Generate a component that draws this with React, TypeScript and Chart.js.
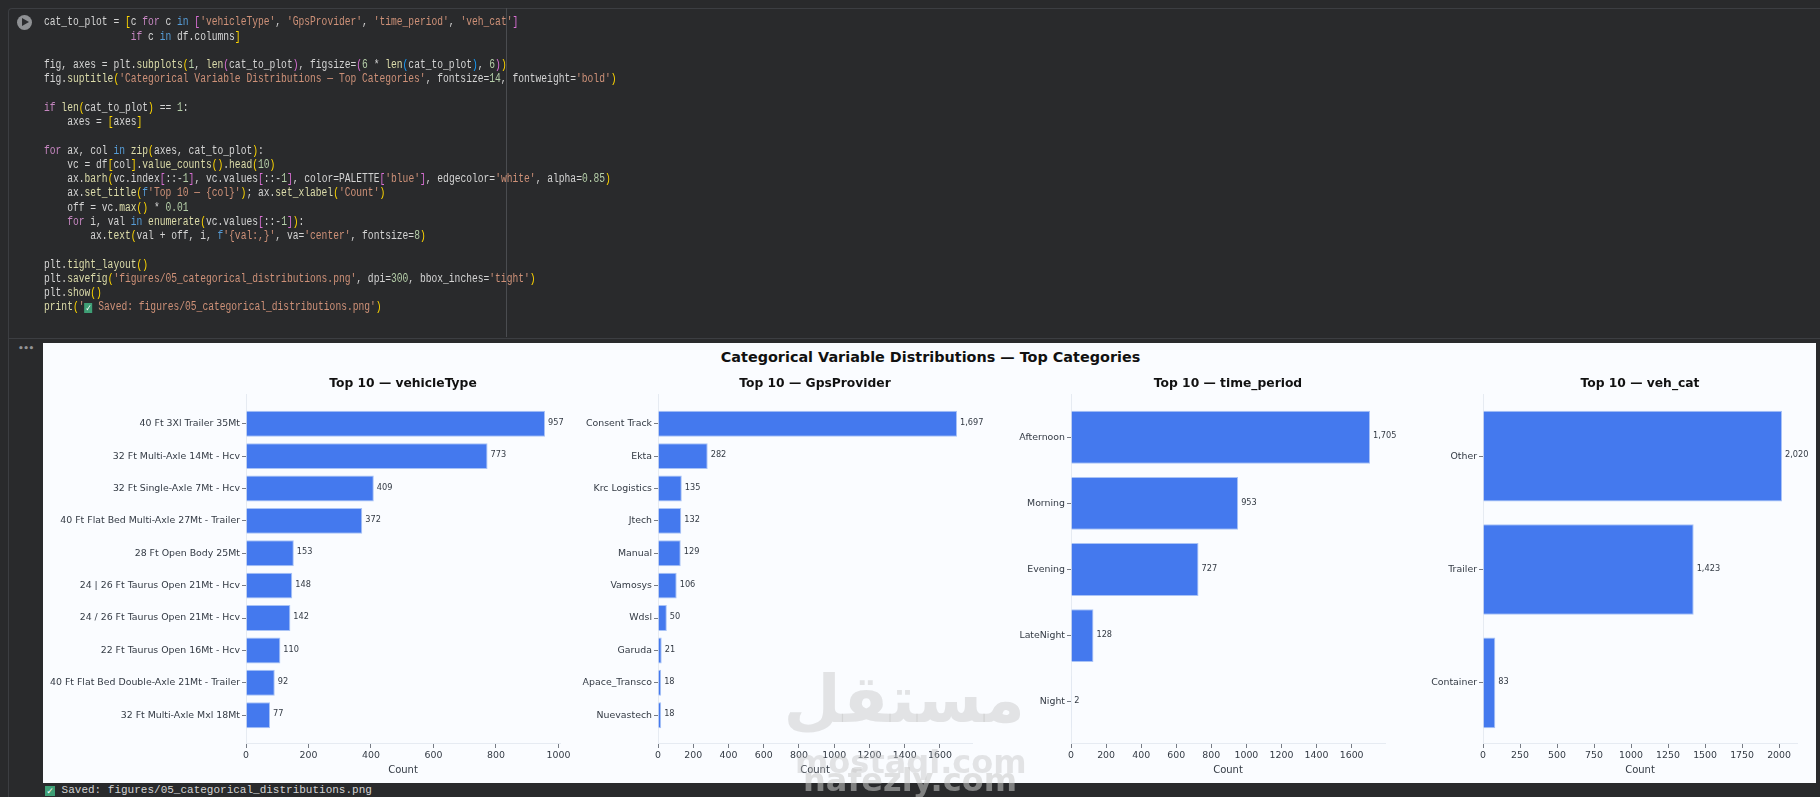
import React, { useEffect, useRef } from "react";
import { Chart, registerables } from "chart.js";

Chart.register(...registerables);

const vehicleTypeLabels = [
  "40 Ft 3Xl Trailer 35Mt",
  "32 Ft Multi-Axle 14Mt - Hcv",
  "32 Ft Single-Axle 7Mt - Hcv",
  "40 Ft Flat Bed Multi-Axle 27Mt - Trailer",
  "28 Ft Open Body 25Mt",
  "24 | 26 Ft Taurus Open 21Mt - Hcv",
  "24 / 26 Ft Taurus Open 21Mt - Hcv",
  "22 Ft Taurus Open 16Mt - Hcv",
  "40 Ft Flat Bed Double-Axle 21Mt - Trailer",
  "32 Ft Multi-Axle Mxl 18Mt",
];
const vehicleTypeValues = [957, 773, 409, 372, 153, 148, 142, 110, 92, 77];
const vehicleTypeTicks = [0, 200, 400, 600, 800, 1000];

const gpsLabels = ["Consent Track", "Ekta", "Krc Logistics", "Jtech", "Manual", "Vamosys", "Wdsl", "Garuda", "Apace_Transco", "Nuevastech"];
const gpsValues = [1697, 282, 135, 132, 129, 106, 50, 21, 18, 18];
const gpsTicks = [0, 200, 400, 600, 800, 1000, 1200, 1400, 1600];

const periodLabels = ["Afternoon", "Morning", "Evening", "LateNight", "Night"];
const periodValues = [1705, 953, 727, 128, 2];
const periodTicks = [0, 200, 400, 600, 800, 1000, 1200, 1400, 1600];

const vehCatLabels = ["Other", "Trailer", "Container"];
const vehCatValues = [2020, 1423, 83];
const vehCatTicks = [0, 250, 500, 750, 1000, 1250, 1500, 1750, 2000];

const panels = [
  { title: "Top 10 — vehicleType", labels: vehicleTypeLabels, values: vehicleTypeValues, ticks: vehicleTypeTicks, left: 246 },
  { title: "Top 10 — GpsProvider", labels: gpsLabels, values: gpsValues, ticks: gpsTicks, left: 658 },
  { title: "Top 10 — time_period", labels: periodLabels, values: periodValues, ticks: periodTicks, left: 1071 },
  { title: "Top 10 — veh_cat", labels: vehCatLabels, values: vehCatValues, ticks: vehCatTicks, left: 1483 },
];

const codeLines: [number, string][] = [
  [0, "cat_to_plot = [c for c in ['vehicleType', 'GpsProvider', 'time_period', 'veh_cat']"],
  [1, "               if c in df.columns]"],
  [3, "fig, axes = plt.subplots(1, len(cat_to_plot), figsize=(6 * len(cat_to_plot), 6))"],
  [4, "fig.suptitle('Categorical Variable Distributions — Top Categories', fontsize=14, fontweight='bold')"],
  [6, "if len(cat_to_plot) == 1:"],
  [7, "    axes = [axes]"],
  [9, "for ax, col in zip(axes, cat_to_plot):"],
  [10, "    vc = df[col].value_counts().head(10)"],
  [11, "    ax.barh(vc.index[::-1], vc.values[::-1], color=PALETTE['blue'], edgecolor='white', alpha=0.85)"],
  [12, "    ax.set_title(f'Top 10 — {col}'); ax.set_xlabel('Count')"],
  [13, "    off = vc.max() * 0.01"],
  [14, "    for i, val in enumerate(vc.values[::-1]):"],
  [15, "        ax.text(val + off, i, f'{val:,}', va='center', fontsize=8)"],
  [17, "plt.tight_layout()"],
  [18, "plt.savefig('figures/05_categorical_distributions.png', dpi=300, bbox_inches='tight')"],
  [19, "plt.show()"],
  [20, "print('✅ Saved: figures/05_categorical_distributions.png')"],
];

const savedText = "Saved: figures/05_categorical_distributions.png";

const FONT = '"DejaVu Sans", sans-serif';
const MONO = '"Liberation Mono", monospace';
const BAR = "#4479EE";
const BAR_EDGE = "#A9C3F6";
const SPINE = "#E6EBF2";
const TICK = "#777C85";
const INK = "#333A44";

const PAD = 210;
const PLOT_W = 314;
const CANVAS_H = 440;

const BRACKETS = ["#ffd700", "#da70d6", "#179fff"];

function Check({ size }: { size: number }) {
  return (
    <span
      style={{
        display: "inline-block",
        width: size,
        height: size,
        lineHeight: size + "px",
        background: "#3f9f76",
        color: "#fff",
        fontSize: size - 1,
        textAlign: "center",
        verticalAlign: "-1px",
        fontFamily: FONT,
      }}
    >
      ✓
    </span>
  );
}

function renderCode(line: string, depth: { v: number }) {
  const out: React.ReactNode[] = [];
  const re = /(f?'[^']*')|\b(for|if)\b|\b(in)\b|\b(\d+(?:\.\d+)?)\b|([\[\](){}])|([A-Za-z_]\w*)(?=\()|([A-Za-z_]\w*|[^\sA-Za-z_\d'()\[\]{}]+|\s+|\d)/g;
  let m: RegExpExecArray | null;
  let k = 0;
  while ((m = re.exec(line))) {
    let color = "#d4d4d4";
    if (m[1]) {
      const s = m[1];
      if (s.includes("✅")) {
        const [a, b] = s.split("✅");
        out.push(
          <span key={k++} style={{ color: "#ce9178" }}>
            {a}
            <Check size={10} />
            {b}
          </span>
        );
        continue;
      }
      if (s[0] === "f") {
        out.push(<span key={k++} style={{ color: "#569cd6" }}>f</span>);
        out.push(<span key={k++} style={{ color: "#ce9178" }}>{s.slice(1)}</span>);
        continue;
      }
      color = "#ce9178";
    } else if (m[2]) color = "#c586c0";
    else if (m[3]) color = "#569cd6";
    else if (m[4]) color = "#b5cea8";
    else if (m[5]) {
      if ("([{".includes(m[5])) {
        color = BRACKETS[depth.v % 3];
        depth.v++;
      } else {
        depth.v = Math.max(0, depth.v - 1);
        color = BRACKETS[depth.v % 3];
      }
    } else if (m[6]) color = "#dcdcaa";
    out.push(<span key={k++} style={{ color }}>{m[0]}</span>);
  }
  return out;
}

export default function App() {
  const refs = useRef<(HTMLCanvasElement | null)[]>([]);

  useEffect(() => {
    document.body.style.margin = "0";
    document.body.style.overflow = "hidden";
    Chart.defaults.font.family = FONT;
    const charts = panels.map((p, idx) => {
      const canvas = refs.current[idx] as HTMLCanvasElement;
      const n = p.labels.length;
      const pad = 0.05 * (n - 1 + 0.8);
      const xMax = Math.max(...p.values) * 1.05;
      const offset = Math.max(...p.values) * 0.01;
      const valueLabels = {
        id: "valueLabels",
        afterDatasetsDraw(chart: any) {
          const { ctx, scales } = chart;
          ctx.save();
          ctx.font = `8.2px ${FONT}`;
          ctx.fillStyle = INK;
          ctx.textBaseline = "middle";
          ctx.textAlign = "left";
          p.values.forEach((v, i) => {
            ctx.fillText(v.toLocaleString("en-US"), scales.x.getPixelForValue(v + offset), scales.y.getPixelForValue(i) - 1);
          });
          ctx.restore();
        },
      };
      return new Chart(canvas, {
        type: "bar",
        data: {
          datasets: [
            {
              data: p.values.map((v, i) => ({ x: v, y: i })),
              backgroundColor: BAR,
              borderColor: BAR_EDGE,
              borderWidth: 1,
              barPercentage: 0.8,
              categoryPercentage: 1,
              xAxisID: "x",
              yAxisID: "y",
            },
          ],
        },
        options: {
          indexAxis: "y",
          animation: false,
          responsive: false,
          layout: { padding: 0 },
          plugins: {
            legend: { display: false },
            tooltip: { enabled: false },
            title: {
              display: true,
              text: p.title,
              color: "#111",
              font: { size: 12.3, weight: "bold", family: FONT, lineHeight: 1.2 },
              padding: { top: 33, bottom: 4.2 },
            },
          },
          scales: {
            x: {
              type: "linear",
              bounds: "data",
              min: 0,
              max: xMax,
              afterFit(scale: any) {
                scale.height = 39;
              },
              afterBuildTicks(scale: any) {
                scale.ticks = p.ticks.map((value) => ({ value }));
              },
              grid: { display: true, drawOnChartArea: false, drawTicks: true, tickLength: 4, tickColor: TICK, tickWidth: 1 },
              border: { display: true, color: SPINE, width: 1 },
              ticks: {
                autoSkip: false,
                maxRotation: 0,
                padding: 1.5,
                color: INK,
                font: { size: 9.4, family: FONT },
                callback: (v: any) => String(v),
              },
              title: { display: true, text: "Count", color: INK, font: { size: 10, family: FONT }, padding: { top: 0, bottom: 7 } },
            },
            y: {
              type: "linear",
              bounds: "data",
              offset: false,
              reverse: true,
              min: -0.4 - pad,
              max: n - 1 + 0.4 + pad,
              afterFit(scale: any) {
                scale.width = PAD;
              },
              afterBuildTicks(scale: any) {
                scale.ticks = p.labels.map((_, i) => ({ value: i }));
              },
              grid: { display: true, offset: false, drawOnChartArea: false, drawTicks: true, tickLength: 4, tickColor: TICK, tickWidth: 1 },
              border: { display: true, color: SPINE, width: 1 },
              ticks: {
                autoSkip: false,
                padding: 2,
                color: INK,
                font: { size: 9.4, family: FONT },
                callback: (v: any) => p.labels[v] ?? "",
              },
            },
            spacer: {
              type: "linear",
              position: "right",
              display: true,
              min: 0,
              max: 1,
              afterFit(scale: any) {
                scale.width = PAD;
              },
              grid: { display: false, drawTicks: false },
              border: { display: false },
              ticks: { display: false },
            },
          },
        },
        plugins: [valueLabels],
      } as any);
    });
    return () => charts.forEach((c) => c.destroy());
  }, []);

  const depth = { v: 0 };

  return (
    <div style={{ position: "absolute", left: 0, top: 0, width: 1820, height: 797, overflow: "hidden", background: "#292a2c" }}>
      {/* cell frame */}
      <div style={{ position: "absolute", left: 8, top: 8, width: 1812, height: 329, borderTop: "1px solid #3c3e42", borderLeft: "1px solid #3c3e42", borderBottom: "1px solid #3c3e42", borderTopLeftRadius: 4 }} />
      <div style={{ position: "absolute", left: 8, top: 337, width: 1, height: 460, background: "#3c3e42" }} />
      <div style={{ position: "absolute", left: 506, top: 8, width: 1, height: 329, background: "#4a4c50" }} />
      {/* run button */}
      <div style={{ position: "absolute", left: 17, top: 15, width: 15, height: 15, borderRadius: 8, background: "#8f9194" }}>
        <div style={{ position: "absolute", left: 5, top: 3, width: 0, height: 0, borderLeft: "7px solid #2b2c2f", borderTop: "4.5px solid transparent", borderBottom: "4.5px solid transparent" }} />
      </div>
      {/* code */}
      <div style={{ position: "absolute", left: 44, top: 0, fontFamily: MONO, fontSize: 12, transform: "scaleX(0.803)", transformOrigin: "0 0", whiteSpace: "pre" }}>
        {codeLines.map(([row, text]) => (
          <div key={row} style={{ position: "absolute", left: 0, top: 15.3 + row * 14.25, lineHeight: "14px" }}>
            {renderCode(text, depth)}
          </div>
        ))}
      </div>
      {/* output dots */}
      <div style={{ position: "absolute", left: 18, top: 343, color: "#939496", fontFamily: FONT, fontSize: 9, fontWeight: "bold", letterSpacing: -0.5 }}>•••</div>
      {/* figure */}
      <div style={{ position: "absolute", left: 43, top: 343, width: 1773, height: 440, background: "#fafcff" }} />
      <div style={{ position: "absolute", left: 43, top: 348, width: 1773, textAlign: "center", fontFamily: FONT, fontSize: 14.4, fontWeight: "bold", color: "#111", lineHeight: "18px", transform: "translateX(1px)" }}>
        Categorical Variable Distributions — Top Categories
      </div>
      {panels.map((p, i) => (
        <canvas
          key={p.title}
          ref={(el) => {
            refs.current[i] = el;
          }}
          width={PLOT_W + 2 * PAD}
          height={CANVAS_H}
          style={{ position: "absolute", left: p.left - PAD, top: 343, width: PLOT_W + 2 * PAD, height: CANVAS_H, display: "block" }}
        />
      ))}
      {/* output text */}
      <div style={{ position: "absolute", left: 45, top: 783, fontFamily: MONO, fontSize: 11, lineHeight: "14px", color: "#d4d4d4", whiteSpace: "pre" }}>
        <Check size={10} /> {savedText}
      </div>
      {/* watermark */}
      <div style={{ position: "absolute", left: 795, top: 650, width: 230, textAlign: "center", fontFamily: FONT, fontWeight: "bold", fontSize: 66, lineHeight: "100px", color: "rgba(190,190,190,0.4)", direction: "rtl" }}>مستقل</div>
      <div style={{ position: "absolute", left: 795, top: 745, width: 230, textAlign: "center", fontFamily: FONT, fontWeight: "bold", fontSize: 32, lineHeight: "34px", color: "rgba(190,190,190,0.4)" }}>mostaql.com</div>
      <div style={{ position: "absolute", left: 795, top: 762, width: 230, textAlign: "center", fontFamily: FONT, fontWeight: "bold", fontSize: 32, lineHeight: "36px", color: "rgba(200,200,200,0.55)" }}>nafezly.com</div>
    </div>
  );
}
